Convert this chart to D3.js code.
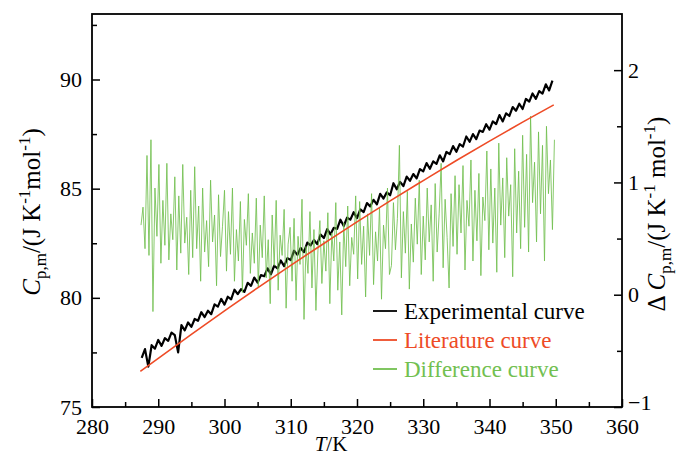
<!DOCTYPE html>
<html>
<head>
<meta charset="utf-8">
<script src="https://cdn.jsdelivr.net/npm/d3@7"></script>
<style>
  body { margin: 0; background: #fff; }
  svg text { font-family: "Liberation Serif", "Times New Roman", Tinos, "DejaVu Serif", "Noto Serif", serif; fill: #000; }
</style>
</head>
<body>
<div id="chart"></div>
<script>
// Tick values
const xMajor = [280, 290, 300, 310, 320, 330, 340, 350, 360];
const xMinor = [285, 295, 305, 315, 325, 335, 345, 355];
const yLeftMajor = [75, 80, 85, 90];
const yLeftMinor = [77.5, 82.5, 87.5, 92.5];
const yRightMajor = [-1, 0, 1, 2];
const yRightMinor = [-0.5, 0.5, 1.5];

// Legend
const legendLabels = ['Experimental curve', 'Literature curve', 'Difference curve'];
const legendColors = ['#000000', '#ee4b26', '#72c050'];

// Literature curve (smooth), read at these temperatures
const litT = [287.3, 290, 295, 300, 305, 310, 315, 320, 325, 330, 335, 340, 345, 349.7];
const litCp = [76.63, 77.23, 78.33, 79.40, 80.46, 81.49, 82.49, 83.48, 84.44, 85.37, 86.29, 87.18, 88.05, 88.84];

// Experimental curve, sampled every 0.5 K from 287.5 K
const expStart = 287.5, expStep = 0.5;
const expCp = [
  77.25, 77.65, 76.85, 77.83, 77.67, 78.07, 77.80, 78.15, 78.03, 78.41,
  78.29, 77.50, 78.75, 78.51, 78.87, 78.67, 79.03, 78.95, 79.34, 79.12,
  79.41, 79.25, 79.70, 79.60, 79.95, 79.69, 80.05, 79.93, 80.37, 80.17,
  80.40, 80.27, 80.69, 80.55, 80.93, 80.70, 81.04, 80.99, 81.35, 81.08,
  81.47, 81.35, 81.71, 81.45, 81.82, 81.73, 82.16, 81.97, 82.28, 82.09,
  82.53, 82.40, 82.65, 82.46, 82.90, 82.74, 83.15, 82.91, 83.21, 83.16,
  83.58, 83.29, 83.67, 83.58, 83.92, 83.65, 84.05, 83.93, 84.34, 84.19,
  84.49, 84.28, 84.76, 84.55, 84.83, 84.70, 85.25, 84.97, 85.31, 85.12,
  85.55, 85.36, 85.67, 85.47, 85.90, 85.79, 86.17, 85.91, 86.25, 86.14,
  86.53, 86.25, 86.68, 86.58, 86.95, 86.69, 87.04, 86.93, 87.39, 87.15,
  87.50, 87.27, 87.66, 87.60, 87.95, 87.70, 88.08, 87.96, 88.37, 88.08,
  88.45, 88.33, 88.74, 88.57, 88.89, 88.65, 89.11, 88.99, 89.36, 89.11,
  89.47, 89.35, 89.78, 89.50, 89.95
];

// Difference curve (right axis), sampled every 0.3 K from 287.4 K
const diffStart = 287.4, diffStep = 0.3;
const diffCp = [
  0.62, 0.78, 0.41, 1.24, 0.35, 1.38, -0.15, 0.95, 0.52,
  1.16, 0.28, 0.84, 0.44, 1.17, 0.31, 0.72, 0.49, 1.05, 0.22, 0.88, 0.37, 1.16, 0.46, 0.69, 0.18, 0.93,
  0.33, 1.14, 0.41, 0.79, 0.12, 0.95, 0.38, 0.66, 0.25, 1.02, 0.47, 0.71, 0.08, 0.89, 0.34, 0.61, 0.93,
  0.21, 0.74, 0.36, 0.95, 0.12, 0.58, 0.30, 0.83, 0.02, 0.67, 0.44, 0.90, 0.19, 0.55, 0.28, 0.86,
  0.07, 0.62, 0.33, 0.88, 0.15, 0.49, -0.08, 0.71, 0.26, 0.84, 0.04, 0.53, 0.35, 0.76, -0.12, 0.45, 0.60,
  0.12, 0.68, -0.05, 0.52, 0.27, 0.85, -0.22, 0.43, 0.19, 0.74, 0.06, 0.58, -0.14, 0.39, 0.66, 0.10, 0.48,
  0.21, 0.73, -0.08, 0.55, 0.30, 0.82, 0.04, 0.47, -0.18, 0.64, 0.25, 0.79, 0.08, 0.51, 0.36, 0.88,
  0.14, 0.83, 0.27, 0.61, -0.02, 0.72, 0.35, 0.90, 0.09, 0.56, 0.30, 0.78, -0.04, 0.62, 0.41, 0.95, 0.18,
  0.26, 0.82, 0.40, 0.68, 1.33, 0.15, 0.74, 0.37, 0.92, 0.05, 0.63, 0.29, 0.86, 0.45, 1.02, 0.18, 0.70,
  0.31, 0.95, 0.47, 0.80, 0.12, 0.99, 0.38, 0.72, 1.17, 0.24, 0.85, 0.51, 0.06, 0.90, 0.43, 1.06,
  0.36, 0.98, 0.55, 1.15, 0.22, 0.84, 0.61, 1.20, 0.30, 0.93, 0.48, 1.08, 0.17, 0.87, 0.66, 1.28, 0.40,
  1.12, 0.46, 0.95, 0.20, 1.35, 0.62, 1.04, 0.33, 1.22, 0.70, 0.98, 0.16, 1.30, 0.55, 1.10, 0.41, 1.42,
  0.60, 1.25, 0.38, 1.59, 0.82, 1.18, 0.47, 1.45, 0.72, 1.33, 0.30, 1.50, 0.90, 1.20, 0.58, 1.38
];

const svgWidth = 678;
const svgHeight = 455;
const plot = { left: 92, right: 622, top: 14, bottom: 407 };
const serif = '"Liberation Serif", "Times New Roman", Tinos, "DejaVu Serif", "Noto Serif", serif';

const svg = d3.select('#chart').append('svg')
  .attr('width', svgWidth)
  .attr('height', svgHeight)
  .attr('font-family', serif);

const x = d3.scaleLinear().domain([280, 360]).range([plot.left, plot.right]);
const yL = d3.scaleLinear().domain([75, 93]).range([plot.bottom, plot.top]);
const yR = d3.scaleLinear().domain([-1, 2.5]).range([plot.bottom, plot.top]);

const expData = expCp.map((v, i) => ({ t: expStart + i * expStep, v }));
const diffData = diffCp.map((v, i) => ({ t: diffStart + i * diffStep, v }));
const litData = litT.map((t, i) => ({ t, v: litCp[i] }));

// curves
svg.append('path')
  .datum(expData)
  .attr('fill', 'none')
  .attr('stroke', '#000')
  .attr('stroke-width', 2.2)
  .attr('stroke-linejoin', 'round')
  .attr('d', d3.line().x(d => x(d.t)).y(d => yL(d.v)));

svg.append('path')
  .datum(diffData)
  .attr('fill', 'none')
  .attr('stroke', '#72c050')
  .attr('stroke-opacity', 0.85)
  .attr('stroke-width', 1)
  .attr('d', d3.line().x(d => x(d.t)).y(d => yR(d.v)));

svg.append('path')
  .datum(litData)
  .attr('fill', 'none')
  .attr('stroke', '#ee4b26')
  .attr('stroke-width', 1.6)
  .attr('d', d3.line().curve(d3.curveMonotoneX).x(d => x(d.t)).y(d => yL(d.v)));

// axes (ticks point inward)
function styleAxis(g) {
  g.attr('font-family', serif);
  g.select('.domain').remove();
  g.selectAll('line').attr('stroke', '#000').attr('stroke-width', 1.5);
  g.selectAll('text').style('font-size', '22px').style('font-family', serif);
}

svg.append('g')
  .attr('transform', `translate(0,${plot.bottom})`)
  .call(d3.axisBottom(x).tickValues(xMajor).tickSizeInner(-8).tickSizeOuter(0).tickPadding(11).tickFormat(d3.format('d')))
  .call(styleAxis);
svg.append('g')
  .attr('transform', `translate(0,${plot.bottom})`)
  .call(d3.axisBottom(x).tickValues(xMinor).tickSizeInner(-5).tickSizeOuter(0).tickFormat(''))
  .call(styleAxis);

svg.append('g')
  .attr('transform', `translate(${plot.left},0)`)
  .call(d3.axisLeft(yL).tickValues(yLeftMajor).tickSizeInner(-8).tickSizeOuter(0).tickPadding(10).tickFormat(d3.format('d')))
  .call(styleAxis);
svg.append('g')
  .attr('transform', `translate(${plot.left},0)`)
  .call(d3.axisLeft(yL).tickValues(yLeftMinor).tickSizeInner(-5).tickSizeOuter(0).tickFormat(''))
  .call(styleAxis);

const rightAxis = svg.append('g')
  .attr('transform', `translate(${plot.right},0)`)
  .call(d3.axisRight(yR).tickValues(yRightMajor).tickSizeInner(-8).tickSizeOuter(0).tickPadding(6).tickFormat(d3.format('d')))
  .call(styleAxis);
// lift the bottom "-1" label slightly so it clears the 360 label
rightAxis.selectAll('.tick text').filter(d => d === -1).attr('dy', '0.1em');
svg.append('g')
  .attr('transform', `translate(${plot.right},0)`)
  .call(d3.axisRight(yR).tickValues(yRightMinor).tickSizeInner(-5).tickSizeOuter(0).tickFormat(''))
  .call(styleAxis);

// frame
svg.append('rect')
  .attr('x', plot.left)
  .attr('y', plot.top)
  .attr('width', plot.right - plot.left)
  .attr('height', plot.bottom - plot.top)
  .attr('fill', 'none')
  .attr('stroke', '#000')
  .attr('stroke-width', 1.8);

// axis titles
function unitLabel(text, prefix) {
  if (prefix) text.append('tspan').text(prefix);
  text.append('tspan').style('font-style', 'italic').text('C');
  text.append('tspan').attr('dy', 6).style('font-size', '17px').text('p,m');
  text.append('tspan').attr('dy', -6).text('/(J K');
  text.append('tspan').attr('dy', -10).style('font-size', '17px').text('-1');
  text.append('tspan').attr('dy', 10).text(prefix ? ' mol' : 'mol');
  text.append('tspan').attr('dy', -10).style('font-size', '17px').text('-1');
  text.append('tspan').attr('dy', 10).text(')');
}

const leftTitle = svg.append('text')
  .attr('transform', 'translate(40,212) rotate(-90)')
  .attr('text-anchor', 'middle')
  .style('font-size', '25px');
unitLabel(leftTitle, null);

const rightTitle = svg.append('text')
  .attr('transform', 'translate(665,214) rotate(-90)')
  .attr('text-anchor', 'middle')
  .style('font-size', '25px');
unitLabel(rightTitle, 'Δ ');

const xTitle = svg.append('text')
  .attr('x', 331)
  .attr('y', 451)
  .attr('text-anchor', 'middle')
  .style('font-size', '21px');
xTitle.append('tspan').style('font-style', 'italic').text('T');
xTitle.append('tspan').text('/K');

// legend
const legend = svg.append('g').attr('transform', 'translate(373,311)');
legendLabels.forEach((label, i) => {
  const row = legend.append('g').attr('transform', `translate(0,${i * 29})`);
  row.append('line')
    .attr('x1', 0).attr('x2', 24)
    .attr('stroke', legendColors[i])
    .attr('stroke-width', 1.8);
  row.append('text')
    .attr('x', 31)
    .attr('dy', '0.35em')
    .style('font-size', '23px')
    .style('fill', legendColors[i])
    .text(label);
});
</script>
</body>
</html>
